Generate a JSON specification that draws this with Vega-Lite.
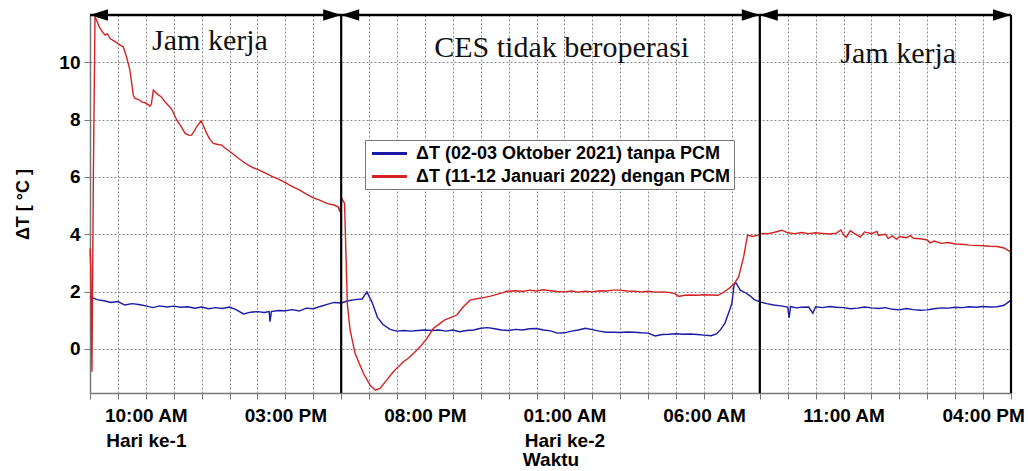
{
  "$schema": "https://vega.github.io/schema/vega-lite/v6.json",
  "autosize": {"type": "none"},
  "padding": {"left": 90, "top": 15, "right": 17, "bottom": 78},
  "width": 921,
  "height": 378,
  "background": "white",
  "config": {
    "view": {"stroke": null},
    "font": "Liberation Sans"
  },
  "resolve": {"axis": {"x": "independent"}},
  "layer": [
    {
      "data": {"values": [
        {"t":0,"v":1.82,"s":"A"},{"t":0.25,"v":1.72,"s":"A"},{"t":0.5,"v":1.68,"s":"A"},{"t":0.75,"v":1.62,"s":"A"},{"t":1.0,"v":1.65,"s":"A"},{"t":1.25,"v":1.53,"s":"A"},{"t":1.5,"v":1.58,"s":"A"},{"t":1.75,"v":1.55,"s":"A"},{"t":2.0,"v":1.5,"s":"A"},{"t":2.25,"v":1.44,"s":"A"},{"t":2.5,"v":1.5,"s":"A"},{"t":2.75,"v":1.46,"s":"A"},{"t":3.0,"v":1.49,"s":"A"},{"t":3.25,"v":1.45,"s":"A"},{"t":3.5,"v":1.47,"s":"A"},{"t":3.75,"v":1.42,"s":"A"},{"t":4.0,"v":1.46,"s":"A"},{"t":4.25,"v":1.4,"s":"A"},{"t":4.5,"v":1.44,"s":"A"},{"t":4.75,"v":1.41,"s":"A"},{"t":5.0,"v":1.46,"s":"A"},{"t":5.25,"v":1.36,"s":"A"},{"t":5.5,"v":1.22,"s":"A"},{"t":5.75,"v":1.28,"s":"A"},{"t":6.0,"v":1.3,"s":"A"},{"t":6.25,"v":1.27,"s":"A"},{"t":6.42,"v":1.3,"s":"A"},{"t":6.45,"v":0.95,"s":"A"},{"t":6.5,"v":1.3,"s":"A"},{"t":6.75,"v":1.34,"s":"A"},{"t":7.0,"v":1.33,"s":"A"},{"t":7.25,"v":1.37,"s":"A"},{"t":7.5,"v":1.32,"s":"A"},{"t":7.75,"v":1.42,"s":"A"},{"t":8.0,"v":1.4,"s":"A"},{"t":8.25,"v":1.48,"s":"A"},{"t":8.5,"v":1.55,"s":"A"},{"t":8.75,"v":1.62,"s":"A"},{"t":9.0,"v":1.6,"s":"A"},{"t":9.25,"v":1.68,"s":"A"},{"t":9.5,"v":1.72,"s":"A"},{"t":9.75,"v":1.74,"s":"A"},{"t":9.92,"v":1.99,"s":"A"},{"t":10.1,"v":1.64,"s":"A"},{"t":10.3,"v":1.1,"s":"A"},{"t":10.5,"v":0.85,"s":"A"},{"t":10.75,"v":0.68,"s":"A"},{"t":11.0,"v":0.62,"s":"A"},{"t":11.25,"v":0.64,"s":"A"},{"t":11.5,"v":0.62,"s":"A"},{"t":11.75,"v":0.64,"s":"A"},{"t":12.0,"v":0.66,"s":"A"},{"t":12.25,"v":0.64,"s":"A"},{"t":12.5,"v":0.66,"s":"A"},{"t":12.75,"v":0.62,"s":"A"},{"t":13.0,"v":0.66,"s":"A"},{"t":13.25,"v":0.6,"s":"A"},{"t":13.5,"v":0.64,"s":"A"},{"t":13.75,"v":0.66,"s":"A"},{"t":14.0,"v":0.72,"s":"A"},{"t":14.25,"v":0.74,"s":"A"},{"t":14.5,"v":0.7,"s":"A"},{"t":14.75,"v":0.66,"s":"A"},{"t":15.0,"v":0.64,"s":"A"},{"t":15.25,"v":0.68,"s":"A"},{"t":15.5,"v":0.66,"s":"A"},{"t":15.75,"v":0.7,"s":"A"},{"t":16.0,"v":0.71,"s":"A"},{"t":16.25,"v":0.66,"s":"A"},{"t":16.5,"v":0.63,"s":"A"},{"t":16.75,"v":0.55,"s":"A"},{"t":17.0,"v":0.56,"s":"A"},{"t":17.25,"v":0.62,"s":"A"},{"t":17.5,"v":0.66,"s":"A"},{"t":17.75,"v":0.72,"s":"A"},{"t":18.0,"v":0.67,"s":"A"},{"t":18.25,"v":0.62,"s":"A"},{"t":18.5,"v":0.58,"s":"A"},{"t":18.75,"v":0.58,"s":"A"},{"t":19.0,"v":0.57,"s":"A"},{"t":19.25,"v":0.59,"s":"A"},{"t":19.5,"v":0.58,"s":"A"},{"t":19.75,"v":0.56,"s":"A"},{"t":20.0,"v":0.55,"s":"A"},{"t":20.25,"v":0.45,"s":"A"},{"t":20.5,"v":0.5,"s":"A"},{"t":20.75,"v":0.51,"s":"A"},{"t":21.0,"v":0.53,"s":"A"},{"t":21.25,"v":0.51,"s":"A"},{"t":21.5,"v":0.52,"s":"A"},{"t":21.75,"v":0.5,"s":"A"},{"t":22.0,"v":0.48,"s":"A"},{"t":22.25,"v":0.46,"s":"A"},{"t":22.45,"v":0.52,"s":"A"},{"t":22.6,"v":0.68,"s":"A"},{"t":22.75,"v":0.9,"s":"A"},{"t":22.9,"v":1.3,"s":"A"},{"t":23.0,"v":1.6,"s":"A"},{"t":23.08,"v":2.25,"s":"A"},{"t":23.15,"v":2.3,"s":"A"},{"t":23.3,"v":2.05,"s":"A"},{"t":23.5,"v":1.95,"s":"A"},{"t":23.65,"v":1.85,"s":"A"},{"t":23.8,"v":1.72,"s":"A"},{"t":24.0,"v":1.64,"s":"A"},{"t":24.25,"v":1.58,"s":"A"},{"t":24.5,"v":1.53,"s":"A"},{"t":24.75,"v":1.5,"s":"A"},{"t":25.0,"v":1.46,"s":"A"},{"t":25.05,"v":1.08,"s":"A"},{"t":25.1,"v":1.48,"s":"A"},{"t":25.3,"v":1.43,"s":"A"},{"t":25.5,"v":1.45,"s":"A"},{"t":25.75,"v":1.46,"s":"A"},{"t":25.9,"v":1.24,"s":"A"},{"t":26.0,"v":1.47,"s":"A"},{"t":26.25,"v":1.44,"s":"A"},{"t":26.5,"v":1.48,"s":"A"},{"t":26.75,"v":1.45,"s":"A"},{"t":27.0,"v":1.44,"s":"A"},{"t":27.25,"v":1.4,"s":"A"},{"t":27.5,"v":1.42,"s":"A"},{"t":27.75,"v":1.46,"s":"A"},{"t":28.0,"v":1.43,"s":"A"},{"t":28.25,"v":1.41,"s":"A"},{"t":28.5,"v":1.44,"s":"A"},{"t":28.75,"v":1.38,"s":"A"},{"t":29.0,"v":1.36,"s":"A"},{"t":29.25,"v":1.41,"s":"A"},{"t":29.5,"v":1.37,"s":"A"},{"t":29.75,"v":1.35,"s":"A"},{"t":30.0,"v":1.36,"s":"A"},{"t":30.25,"v":1.4,"s":"A"},{"t":30.5,"v":1.43,"s":"A"},{"t":30.75,"v":1.42,"s":"A"},{"t":31.0,"v":1.45,"s":"A"},{"t":31.25,"v":1.44,"s":"A"},{"t":31.5,"v":1.47,"s":"A"},{"t":31.75,"v":1.45,"s":"A"},{"t":32.0,"v":1.48,"s":"A"},{"t":32.25,"v":1.46,"s":"A"},{"t":32.5,"v":1.47,"s":"A"},{"t":32.75,"v":1.52,"s":"A"},{"t":33.0,"v":1.7,"s":"A"},
        {"t":0,"v":3.5,"s":"B"},{"t":0.03,"v":2.8,"s":"B"},{"t":0.07,"v":-0.8,"s":"B"},{"t":0.12,"v":6.0,"s":"B"},{"t":0.18,"v":11.6,"s":"B"},{"t":0.35,"v":11.2,"s":"B"},{"t":0.45,"v":11.05,"s":"B"},{"t":0.54,"v":10.95,"s":"B"},{"t":0.62,"v":11.0,"s":"B"},{"t":0.72,"v":10.83,"s":"B"},{"t":0.9,"v":10.72,"s":"B"},{"t":1.08,"v":10.6,"s":"B"},{"t":1.19,"v":10.54,"s":"B"},{"t":1.31,"v":10.19,"s":"B"},{"t":1.43,"v":9.73,"s":"B"},{"t":1.55,"v":8.86,"s":"B"},{"t":1.61,"v":8.74,"s":"B"},{"t":1.75,"v":8.7,"s":"B"},{"t":1.85,"v":8.62,"s":"B"},{"t":2.0,"v":8.58,"s":"B"},{"t":2.15,"v":8.47,"s":"B"},{"t":2.2,"v":8.55,"s":"B"},{"t":2.27,"v":9.03,"s":"B"},{"t":2.35,"v":8.95,"s":"B"},{"t":2.45,"v":8.86,"s":"B"},{"t":2.55,"v":8.8,"s":"B"},{"t":2.69,"v":8.62,"s":"B"},{"t":2.8,"v":8.5,"s":"B"},{"t":2.93,"v":8.36,"s":"B"},{"t":3.11,"v":7.98,"s":"B"},{"t":3.25,"v":7.78,"s":"B"},{"t":3.41,"v":7.52,"s":"B"},{"t":3.55,"v":7.45,"s":"B"},{"t":3.64,"v":7.46,"s":"B"},{"t":3.75,"v":7.62,"s":"B"},{"t":3.82,"v":7.75,"s":"B"},{"t":3.98,"v":7.96,"s":"B"},{"t":4.08,"v":7.75,"s":"B"},{"t":4.18,"v":7.52,"s":"B"},{"t":4.3,"v":7.3,"s":"B"},{"t":4.42,"v":7.17,"s":"B"},{"t":4.55,"v":7.14,"s":"B"},{"t":4.72,"v":7.11,"s":"B"},{"t":4.85,"v":7.0,"s":"B"},{"t":5.02,"v":6.88,"s":"B"},{"t":5.15,"v":6.78,"s":"B"},{"t":5.32,"v":6.65,"s":"B"},{"t":5.5,"v":6.52,"s":"B"},{"t":5.67,"v":6.41,"s":"B"},{"t":5.85,"v":6.32,"s":"B"},{"t":6.0,"v":6.26,"s":"B"},{"t":6.25,"v":6.15,"s":"B"},{"t":6.5,"v":6.03,"s":"B"},{"t":6.75,"v":5.92,"s":"B"},{"t":7.0,"v":5.8,"s":"B"},{"t":7.25,"v":5.66,"s":"B"},{"t":7.5,"v":5.55,"s":"B"},{"t":7.75,"v":5.4,"s":"B"},{"t":8.0,"v":5.27,"s":"B"},{"t":8.25,"v":5.18,"s":"B"},{"t":8.5,"v":5.07,"s":"B"},{"t":8.75,"v":5.02,"s":"B"},{"t":8.9,"v":4.95,"s":"B"},{"t":8.95,"v":4.78,"s":"B"},{"t":9.02,"v":5.25,"s":"B"},{"t":9.12,"v":5.08,"s":"B"},{"t":9.22,"v":1.58,"s":"B"},{"t":9.32,"v":0.65,"s":"B"},{"t":9.5,"v":-0.16,"s":"B"},{"t":9.8,"v":-0.86,"s":"B"},{"t":10.04,"v":-1.27,"s":"B"},{"t":10.22,"v":-1.44,"s":"B"},{"t":10.39,"v":-1.38,"s":"B"},{"t":10.63,"v":-1.09,"s":"B"},{"t":10.87,"v":-0.8,"s":"B"},{"t":11.05,"v":-0.62,"s":"B"},{"t":11.23,"v":-0.45,"s":"B"},{"t":11.4,"v":-0.33,"s":"B"},{"t":11.59,"v":-0.16,"s":"B"},{"t":11.83,"v":0.07,"s":"B"},{"t":12.07,"v":0.36,"s":"B"},{"t":12.3,"v":0.71,"s":"B"},{"t":12.54,"v":0.89,"s":"B"},{"t":12.7,"v":1.0,"s":"B"},{"t":12.9,"v":1.08,"s":"B"},{"t":13.14,"v":1.18,"s":"B"},{"t":13.38,"v":1.47,"s":"B"},{"t":13.62,"v":1.7,"s":"B"},{"t":13.85,"v":1.75,"s":"B"},{"t":14.1,"v":1.79,"s":"B"},{"t":14.35,"v":1.84,"s":"B"},{"t":14.58,"v":1.9,"s":"B"},{"t":14.8,"v":1.96,"s":"B"},{"t":14.93,"v":2.01,"s":"B"},{"t":15.25,"v":2.03,"s":"B"},{"t":15.5,"v":2.0,"s":"B"},{"t":15.75,"v":2.05,"s":"B"},{"t":16.0,"v":2.02,"s":"B"},{"t":16.25,"v":2.06,"s":"B"},{"t":16.5,"v":2.03,"s":"B"},{"t":16.75,"v":2.0,"s":"B"},{"t":17.0,"v":1.99,"s":"B"},{"t":17.25,"v":2.02,"s":"B"},{"t":17.5,"v":1.98,"s":"B"},{"t":17.75,"v":2.01,"s":"B"},{"t":18.0,"v":1.99,"s":"B"},{"t":18.25,"v":2.03,"s":"B"},{"t":18.5,"v":2.02,"s":"B"},{"t":18.75,"v":2.05,"s":"B"},{"t":19.0,"v":2.05,"s":"B"},{"t":19.25,"v":2.02,"s":"B"},{"t":19.5,"v":2.01,"s":"B"},{"t":19.75,"v":1.99,"s":"B"},{"t":20.0,"v":2.01,"s":"B"},{"t":20.25,"v":1.98,"s":"B"},{"t":20.5,"v":1.99,"s":"B"},{"t":20.75,"v":1.97,"s":"B"},{"t":20.95,"v":1.93,"s":"B"},{"t":21.1,"v":1.83,"s":"B"},{"t":21.3,"v":1.87,"s":"B"},{"t":21.5,"v":1.88,"s":"B"},{"t":21.75,"v":1.87,"s":"B"},{"t":22.0,"v":1.89,"s":"B"},{"t":22.25,"v":1.88,"s":"B"},{"t":22.5,"v":1.87,"s":"B"},{"t":22.7,"v":1.97,"s":"B"},{"t":22.94,"v":2.14,"s":"B"},{"t":23.1,"v":2.3,"s":"B"},{"t":23.24,"v":2.51,"s":"B"},{"t":23.42,"v":3.21,"s":"B"},{"t":23.56,"v":3.97,"s":"B"},{"t":23.75,"v":3.92,"s":"B"},{"t":23.9,"v":3.96,"s":"B"},{"t":24.1,"v":4.03,"s":"B"},{"t":24.3,"v":4.02,"s":"B"},{"t":24.5,"v":4.06,"s":"B"},{"t":24.79,"v":4.14,"s":"B"},{"t":25.0,"v":4.05,"s":"B"},{"t":25.25,"v":4.02,"s":"B"},{"t":25.5,"v":4.06,"s":"B"},{"t":25.75,"v":4.02,"s":"B"},{"t":26.0,"v":4.05,"s":"B"},{"t":26.25,"v":4.03,"s":"B"},{"t":26.5,"v":4.01,"s":"B"},{"t":26.75,"v":4.04,"s":"B"},{"t":26.9,"v":4.15,"s":"B"},{"t":27.0,"v":3.98,"s":"B"},{"t":27.1,"v":3.9,"s":"B"},{"t":27.24,"v":4.12,"s":"B"},{"t":27.4,"v":4.02,"s":"B"},{"t":27.6,"v":3.9,"s":"B"},{"t":27.75,"v":4.08,"s":"B"},{"t":28.0,"v":4.02,"s":"B"},{"t":28.2,"v":4.1,"s":"B"},{"t":28.25,"v":3.96,"s":"B"},{"t":28.5,"v":4.0,"s":"B"},{"t":28.6,"v":3.85,"s":"B"},{"t":28.75,"v":3.94,"s":"B"},{"t":28.9,"v":3.82,"s":"B"},{"t":29.0,"v":3.92,"s":"B"},{"t":29.25,"v":3.88,"s":"B"},{"t":29.4,"v":3.95,"s":"B"},{"t":29.5,"v":3.86,"s":"B"},{"t":29.75,"v":3.84,"s":"B"},{"t":30.0,"v":3.8,"s":"B"},{"t":30.1,"v":3.7,"s":"B"},{"t":30.25,"v":3.76,"s":"B"},{"t":30.5,"v":3.68,"s":"B"},{"t":30.75,"v":3.71,"s":"B"},{"t":31.0,"v":3.66,"s":"B"},{"t":31.25,"v":3.65,"s":"B"},{"t":31.5,"v":3.62,"s":"B"},{"t":31.75,"v":3.61,"s":"B"},{"t":32.0,"v":3.6,"s":"B"},{"t":32.25,"v":3.58,"s":"B"},{"t":32.5,"v":3.57,"s":"B"},{"t":32.75,"v":3.52,"s":"B"},{"t":32.97,"v":3.39,"s":"B"}
      ]},
      "mark": {"type": "line", "strokeWidth": 1.4, "interpolate": "linear"},
      "encoding": {
        "x": {
          "field": "t", "type": "quantitative",
          "scale": {"domain": [0, 33], "nice": false, "zero": false},
          "axis": {
            "orient": "bottom",
            "values": [0,1,2,3,4,5,6,7,8,9,10,11,12,13,14,15,16,17,18,19,20,21,22,23,24,25,26,27,28,29,30,31,32,33],
            "labels": false,
            "tickSize": 6,
            "tickColor": "#777777",
            "domainColor": "#777777",
            "domainWidth": 1.5,
            "grid": true,
            "gridColor": "#8a8a8a",
            "gridDash": [2, 2],
            "gridWidth": 1,
            "title": null
          }
        },
        "y": {
          "field": "v", "type": "quantitative",
          "scale": {"domain": [-1.54, 11.65], "nice": false, "zero": false},
          "axis": {
            "values": [0, 2, 4, 6, 8, 10],
            "labelFont": "Liberation Sans",
            "labelFontWeight": "bold",
            "labelFontSize": 19,
            "labelColor": "black",
            "labelPadding": 4,
            "tickSize": 6,
            "tickColor": "#777777",
            "domainColor": "#777777",
            "domainWidth": 1.5,
            "grid": true,
            "gridColor": "#8a8a8a",
            "gridDash": [2, 2],
            "gridWidth": 1,
            "title": "ΔT [ °C ]",
            "titleFont": "Liberation Sans",
            "titleFontWeight": "bold",
            "titleFontSize": 18,
            "titleColor": "black",
            "titlePadding": 26
          }
        },
        "color": {
          "field": "s", "type": "nominal",
          "scale": {"domain": ["A", "B"], "range": ["#1a1aa6", "#d42222"]},
          "legend": {
            "orient": "none",
            "legendX": 275,
            "legendY": 125,
            "title": null,
            "labelExpr": "datum.value == 'A' ? 'ΔT (02-03 Oktober 2021) tanpa PCM' : 'ΔT (11-12 Januari 2022) dengan PCM'",
            "labelFont": "Liberation Sans",
            "labelFontWeight": "bold",
            "labelFontSize": 18,
            "labelColor": "black",
            "labelOffset": 16,
            "symbolType": "M-2,0L2,0",
            "symbolSize": 306,
            "symbolStrokeWidth": 3,
            "symbolOffset": 11,
            "rowPadding": 3,
            "padding": 3,
            "strokeColor": "#777777",
            "fillColor": "white",
            "labelLimit": 400
          }
        }
      }
    },
    {
      "data": {"values": [{"t": 9}, {"t": 24}, {"t": 33}]},
      "mark": {"type": "rule", "color": "black", "strokeWidth": 2.2},
      "encoding": {"x": {"field": "t", "type": "quantitative", "axis": null}}
    },
    {
      "data": {"values": [{"a": 0, "b": 9}, {"a": 9, "b": 24}, {"a": 24, "b": 33}]},
      "layer": [
        {
          "mark": {"type": "rule", "color": "black", "strokeWidth": 2.5},
          "encoding": {
            "x": {"field": "a", "type": "quantitative", "axis": null},
            "x2": {"field": "b"},
            "y": {"datum": 11.65}
          }
        },
        {
          "mark": {"type": "point", "shape": "M-1,-0.65L1,0L-1,0.65Z", "filled": true, "color": "black", "opacity": 1, "size": 324, "xOffset": -9},
          "encoding": {
            "x": {"field": "b", "type": "quantitative", "axis": null},
            "y": {"datum": 11.65}
          }
        },
        {
          "mark": {"type": "point", "shape": "M1,-0.65L-1,0L1,0.65Z", "filled": true, "color": "black", "opacity": 1, "size": 324, "xOffset": 9},
          "encoding": {
            "x": {"field": "a", "type": "quantitative", "axis": null},
            "y": {"datum": 11.65}
          }
        }
      ]
    },
    {
      "data": {"values": [
        {"t": 4.3, "v": 10.43, "label": "Jam kerja"},
        {"t": 16.9, "v": 10.19, "label": "CES tidak beroperasi"},
        {"t": 28.96, "v": 9.96, "label": "Jam kerja"}
      ]},
      "mark": {"type": "text", "font": "Liberation Serif", "fontSize": 30, "align": "center", "baseline": "alphabetic", "color": "#111111"},
      "encoding": {
        "x": {
          "field": "t", "type": "quantitative",
          "axis": {
            "orient": "bottom",
            "values": [2, 7, 12, 17, 22, 27, 32],
            "labelExpr": "datum.value == 2 ? ['10:00 AM', 'Hari ke-1'] : datum.value == 7 ? '03:00 PM' : datum.value == 12 ? '08:00 PM' : datum.value == 17 ? ['01:00 AM', 'Hari ke-2'] : datum.value == 22 ? '06:00 AM' : datum.value == 27 ? '11:00 AM' : '04:00 PM'",
            "labelOverlap": false,
            "labelFlush": false,
            "labelFont": "Liberation Sans",
            "labelFontWeight": "bold",
            "labelFontSize": 19,
            "labelColor": "black",
            "labelPadding": 13,
            "labelLineHeight": 25,
            "ticks": false,
            "domain": false,
            "grid": false,
            "title": "Waktu",
            "titleFont": "Liberation Sans",
            "titleFontWeight": "bold",
            "titleFontSize": 19,
            "titleColor": "black",
            "titlePadding": 0
          }
        },
        "y": {"field": "v", "type": "quantitative"},
        "text": {"field": "label"}
      }
    }
  ]
}
